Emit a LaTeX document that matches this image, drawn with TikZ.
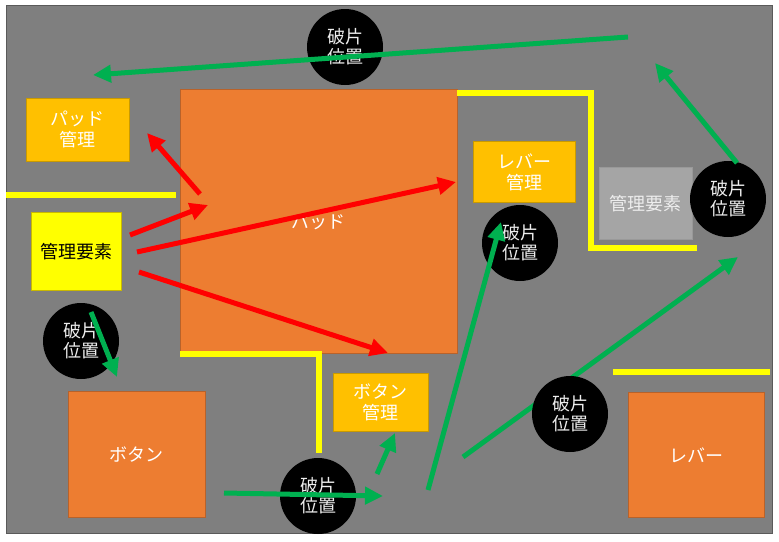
\documentclass[tikz,border=0pt]{standalone}
\usepackage{fontspec}
\setmainfont{Noto Sans CJK JP}
\usetikzlibrary{arrows.meta}
\definecolor{bg}{HTML}{7F7F7F}
\definecolor{bgb}{HTML}{5A5A5A}
\definecolor{orng}{HTML}{ED7D31}
\definecolor{orngb}{HTML}{B8622A}
\definecolor{gold}{HTML}{FFC000}
\definecolor{goldb}{HTML}{C99A00}
\definecolor{yel}{HTML}{FFFF00}
\definecolor{yelb}{HTML}{C9B800}
\definecolor{grn}{HTML}{00B050}
\definecolor{lgray}{HTML}{A5A5A5}
\definecolor{lgrayb}{HTML}{999999}
\definecolor{ltext}{HTML}{EDEDED}
\tikzset{
  box/.style={draw, line width=0.8pt, anchor=north west, inner sep=0pt, align=center,
    text=white, font=\fontsize{18}{21}\selectfont},
  bigbox/.style={box, fill=orng, draw=orngb},
  mgr/.style={box, fill=gold, draw=goldb},
  frag/.style={circle, fill=black, minimum size=76pt, inner sep=0pt, align=center,
    text=ltext, font=\fontsize{18}{20}\selectfont},
  wall/.style={yel, line width=6pt},
  garrow/.style={grn, line width=5pt, -{Triangle[length=18pt,width=17pt]}},
  rarrow/.style={red, line width=5pt, -{Triangle[length=18pt,width=17pt]}}
}
\begin{document}
\begin{tikzpicture}[x=1pt,y=-1pt]
\useasboundingbox (0,0) rectangle (779,541);
\fill[white] (0,0) rectangle (779,541);
\draw[fill=bg, draw=bgb, line width=0.8pt] (6,5) rectangle (772,533);

% boxes
\node[bigbox, minimum width=277pt, minimum height=264pt] (pad) at (180,89) {パッド};
\node[mgr, minimum width=103pt, minimum height=63pt] (padm) at (26,98) {パッド\\管理};
\node[box, fill=yel, draw=yelb, text=black, minimum width=90pt, minimum height=78pt] (ctrlA) at (31,212) {管理要素};
\node[mgr, minimum width=102pt, minimum height=61pt] (leverm) at (473,141) {レバー\\管理};
\node[box, fill=lgray, draw=lgrayb, text=ltext, minimum width=93pt, minimum height=72pt] (ctrlB) at (599,167) {管理要素};
\node[bigbox, minimum width=137pt, minimum height=126pt] (button) at (68,391) {ボタン};
\node[mgr, minimum width=95pt, minimum height=58pt] (buttonm) at (333,373) {ボタン\\管理};
\node[bigbox, minimum width=136pt, minimum height=125pt] (lever) at (628,392) {レバー};

% walls
\draw[wall] (6,195) -- (176,195);
\draw[wall] (457,93) -- (591,93) -- (591,248) -- (697,248);
\draw[wall] (180,354) -- (319,354) -- (319,453);
\draw[wall] (613,372) -- (770,372);

% arrow that runs behind a fragment circle
\coordinate (g4a) at (463,457);
\coordinate (g4b) at (738,257);
\draw[garrow] (g4a) -- (g4b);

% fragment circles
\node[frag] (f1) at (345,47) {破片\\位置};
\node[frag] (f2) at (520,243) {破片\\位置};
\node[frag] (f3) at (728,199) {破片\\位置};
\node[frag] (f4) at (81,341) {破片\\位置};
\node[frag] (f5) at (318,496) {破片\\位置};
\node[frag] (f6) at (570,414) {破片\\位置};

% green arrows
\coordinate (g1a) at (628,37);  \coordinate (g1b) at (93,75);
\coordinate (g2a) at (737,163); \coordinate (g2b) at (655,63);
\coordinate (g3a) at (428,490); \coordinate (g3b) at (501,222);
\coordinate (g5a) at (91,312);  \coordinate (g5b) at (117,377);
\coordinate (g6a) at (224,493); \coordinate (g6b) at (383,496);
\coordinate (g7a) at (377,474); \coordinate (g7b) at (395,433);
\draw[garrow] (g1a) -- (g1b);
\draw[garrow] (g2a) -- (g2b);
\draw[garrow] (g3a) -- (g3b);
\draw[garrow] (g5a) -- (g5b);
\draw[garrow] (g6a) -- (g6b);
\draw[garrow] (g7a) -- (g7b);

% red arrows
\coordinate (r1a) at (200,194); \coordinate (r1b) at (147,133);
\coordinate (r2a) at (130,235); \coordinate (r2b) at (208,205);
\coordinate (r3a) at (137,252); \coordinate (r3b) at (456,182);
\coordinate (r4a) at (139,272); \coordinate (r4b) at (388,353);
\draw[rarrow] (r1a) -- (r1b);
\draw[rarrow] (r2a) -- (r2b);
\draw[rarrow] (r3a) -- (r3b);
\draw[rarrow] (r4a) -- (r4b);
\end{tikzpicture}
\end{document}
